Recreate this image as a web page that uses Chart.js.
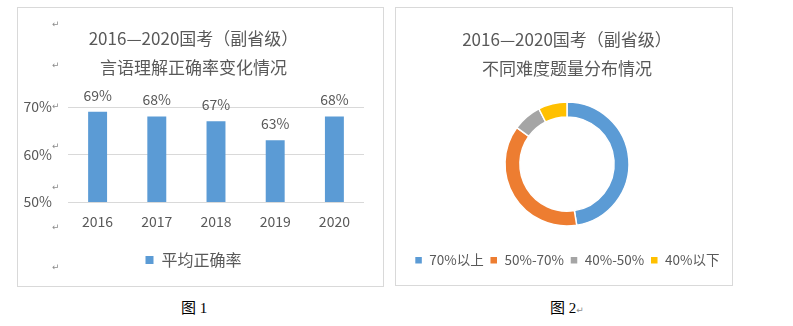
<!DOCTYPE html>
<html>
<head>
<meta charset="utf-8">
<script src="https://cdn.jsdelivr.net/npm/chart.js@4/dist/chart.umd.min.js"></script>
<style>
  html, body { margin: 0; padding: 0; background: #ffffff; }
  body { width: 793px; height: 326px; position: relative; overflow: hidden; }
  .box { position: absolute; border: 1px solid #d9d9d9; box-sizing: border-box; }
  canvas { position: absolute; }
  .mark { position: absolute; font-family: 'DejaVu Sans', sans-serif; font-size: 9px; color: #8c8c8c; line-height: 10px; }
  .cap { position: absolute; font-family: 'Liberation Serif', 'Noto Sans CJK SC', serif; font-size: 15px; color: #000; line-height: 18px; }
  .cap .cj { font-family: 'Noto Sans CJK SC', sans-serif; }
</style>
</head>
<body>
<div class="box" style="left:17px; top:7px; width:367px; height:280px;"></div>
<div class="box" style="left:395px; top:7px; width:338px; height:279px;"></div>
<canvas id="c1" width="364" height="277" style="left:18px; top:8px;"></canvas>
<canvas id="c2" width="370" height="277" style="left:382px; top:8px;"></canvas>

<div class="mark" style="left:52px; top:19px;">↵</div>
<div class="mark" style="left:52px; top:60px;">↵</div>
<div class="mark" style="left:52px; top:101px;">↵</div>
<div class="mark" style="left:52px; top:141px;">↵</div>
<div class="mark" style="left:52px; top:182px;">↵</div>
<div class="mark" style="left:52px; top:222px;">↵</div>
<div class="mark" style="left:52px; top:262px;">↵</div>

<div class="cap" style="left:181px; top:298px;"><span class="cj">图</span> 1</div>
<div class="cap" style="left:550px; top:298px;"><span class="cj">图</span> 2<span style="font-family:'DejaVu Sans'; font-size:9px; color:#8c8c8c;">↵</span></div>

<script>
// ---- data ----
const years = ['2016', '2017', '2018', '2019', '2020'];
const accuracy = [0.69, 0.68, 0.67, 0.63, 0.68];
const accuracySeriesName = '平均正确率';
const yTickValues = [0.5, 0.6, 0.7];
const chart1Title = '2016—2020国考（副省级）';
const chart1Subtitle = '言语理解正确率变化情况';

const difficultyLabels = ['70%以上', '50%-70%', '40%-50%', '40%以下'];
const difficultyCounts = [19, 15, 3, 3];
const chart2Title = '2016—2020国考（副省级）';
const chart2Subtitle = '不同难度题量分布情况';

// ---- style ----
const TEXT = '#595959';
const FONT = "'Noto Sans CJK SC', 'Microsoft YaHei', sans-serif";
Chart.defaults.font.family = FONT;
Chart.defaults.color = TEXT;
Chart.defaults.animation = false;

const pct = v => Math.round(v * 100) + '%';

const barLabels = {
  id: 'barLabels',
  afterDatasetsDraw(chart) {
    const ctx = chart.ctx;
    const meta = chart.getDatasetMeta(0);
    ctx.save();
    ctx.font = '14px ' + FONT;
    ctx.fillStyle = TEXT;
    ctx.textAlign = 'center';
    ctx.textBaseline = 'middle';
    meta.data.forEach((bar, i) => {
      ctx.fillText(pct(chart.data.datasets[0].data[i]), bar.x, bar.y - 16.5);
    });
    ctx.restore();
  }
};

new Chart(document.getElementById('c1'), {
  type: 'bar',
  data: {
    labels: years,
    datasets: [{
      label: accuracySeriesName,
      data: accuracy,
      backgroundColor: '#5b9bd5',
      borderWidth: 0,
      categoryPercentage: 1,
      barPercentage: 0.32
    }]
  },
  options: {
    responsive: false,
    devicePixelRatio: 1,
    layout: { padding: { left: 5, right: 18, top: 0, bottom: 7 } },
    plugins: {
      title: {
        display: true, text: chart1Title,
        font: { size: 17, weight: 'normal', lineHeight: 1.2 },
        color: TEXT,
        padding: { top: 20.3, bottom: 8.6 }
      },
      subtitle: {
        display: true, text: chart1Subtitle,
        font: { size: 17, weight: 'normal', lineHeight: 1.2 },
        color: TEXT,
        padding: { top: 0, bottom: 29.3 }
      },
      legend: {
        display: true, position: 'bottom',
        labels: { boxWidth: 8, boxHeight: 8, padding: 10, font: { size: 16 }, color: TEXT }
      },
      tooltip: { enabled: false }
    },
    scales: {
      x: {
        grid: { display: false, drawTicks: false },
        border: { display: false },
        ticks: { padding: 11.6, font: { size: 14 }, color: TEXT }
      },
      y: {
        min: 0.5, max: 0.7,
        afterFit(scale) { scale.width = 45; },
        afterBuildTicks(scale) { scale.ticks = yTickValues.map(v => ({ value: v })); },
        grid: { color: '#d9d9d9', drawTicks: false, lineWidth: 1 },
        border: { display: false },
        ticks: { padding: 16, font: { size: 14 }, color: TEXT, callback: v => pct(v) }
      }
    }
  },
  plugins: [barLabels]
});

new Chart(document.getElementById('c2'), {
  type: 'doughnut',
  data: {
    labels: difficultyLabels,
    datasets: [{
      data: difficultyCounts,
      backgroundColor: ['#5b9bd5', '#ed7d31', '#a5a5a5', '#ffc000'],
      borderColor: '#ffffff',
      borderWidth: 1.5
    }]
  },
  options: {
    responsive: false,
    devicePixelRatio: 1,
    radius: 62,
    cutout: '76%',
    layout: { padding: { left: 0, right: 0, top: 0, bottom: 8 } },
    plugins: {
      title: {
        display: true, text: chart2Title,
        font: { size: 17, weight: 'normal', lineHeight: 1.2 },
        color: TEXT,
        padding: { top: 21, bottom: 9.4 }
      },
      subtitle: {
        display: true, text: chart2Subtitle,
        font: { size: 17, weight: 'normal', lineHeight: 1.2 },
        color: TEXT,
        padding: { top: 0, bottom: 1.3 }
      },
      legend: {
        display: true, position: 'bottom',
        labels: { boxWidth: 8, boxHeight: 8, padding: 6, font: { size: 13.5 }, color: TEXT }
      },
      tooltip: { enabled: false }
    }
  }
});
</script>
</body>
</html>
